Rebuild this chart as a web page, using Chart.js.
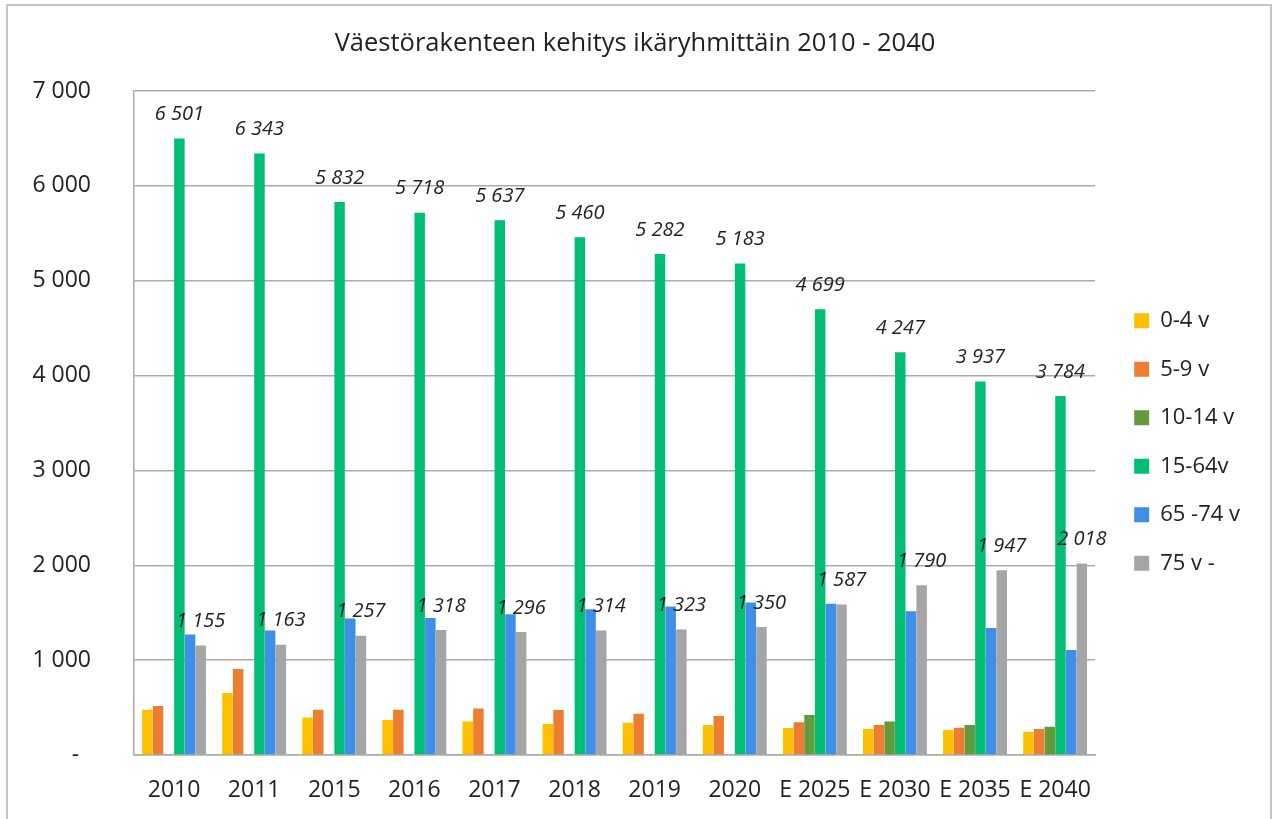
<!DOCTYPE html>
<html>
<head>
<meta charset="utf-8">
<script src="https://cdn.jsdelivr.net/npm/chart.js@4.4.1/dist/chart.umd.min.js"></script>
<style>
  html, body { margin: 0; padding: 0; background: #fff; }
  #frame { position: absolute; left: 6px; top: 4px; width: 1262px; height: 830px;
           border: 2px solid #c6c6c6; border-bottom: none; }
  #wrap { position: absolute; left: 0; top: 0; width: 1276px; height: 819px; }
</style>
</head>
<body>
<div id="frame"></div>
<div id="wrap"><canvas id="chart"></canvas></div>
<script>
// Data
const categories = ['2010', '2011', '2015', '2016', '2017', '2018', '2019', '2020', 'E 2025', 'E 2030', 'E 2035', 'E 2040'];
const age0to4 = [477, 653, 396, 368, 354, 326, 340, 316, 284, 274, 263, 245];
const age5to9 = [516, 908, 477, 477, 491, 474, 435, 411, 344, 316, 288, 274];
const age10to14 = [null, null, null, null, null, null, null, null, 421, 354, 316, 298];
const age15to64 = [6501, 6343, 5832, 5718, 5637, 5460, 5282, 5183, 4699, 4247, 3937, 3784];
const age65to74 = [1270, 1312, 1438, 1445, 1484, 1537, 1565, 1607, 1596, 1516, 1340, 1108];
const age75plus = [1155, 1163, 1257, 1318, 1296, 1314, 1323, 1350, 1587, 1790, 1947, 2018];
const yTicks = [0, 1000, 2000, 3000, 4000, 5000, 6000, 7000];

const FONT = "'Open Sans', 'DejaVu Sans', sans-serif";
const TEXT = '#222';
const GRID = '#ababab';

function fmt(v) {
  return String(v).replace(/\B(?=(\d{3})+(?!\d))/g, ' ');
}

// value labels above the 15-64 and 75+ bars
const valueLabels = {
  id: 'valueLabels',
  afterDatasetsDraw(chart) {
    const ctx = chart.ctx;
    ctx.save();
    ctx.font = 'italic 20px ' + FONT;
    ctx.fillStyle = TEXT;
    ctx.textAlign = 'center';
    ctx.textBaseline = 'middle';
    [3, 5].forEach(di => {
      const meta = chart.getDatasetMeta(di);
      meta.data.forEach((bar, i) => {
        const v = chart.data.datasets[di].data[i];
        if (v == null) return;
        ctx.fillText(fmt(v), bar.x, bar.y - 24);
      });
    });
    ctx.restore();
  }
};

const ctx = document.getElementById('chart').getContext('2d');
new Chart(ctx, {
  type: 'bar',
  data: {
    labels: categories,
    datasets: [
      { label: '0-4 v', data: age0to4, backgroundColor: '#FFC000' },
      { label: '5-9 v', data: age5to9, backgroundColor: '#ED7D31' },
      { label: '10-14 v', data: age10to14, backgroundColor: '#639B3C' },
      { label: '15-64v', data: age15to64, backgroundColor: '#00BE74' },
      { label: '65 -74 v', data: age65to74, backgroundColor: '#3F8EEA' },
      { label: '75 v -', data: age75plus, backgroundColor: '#A5A5A5' }
    ]
  },
  options: {
    responsive: true,
    maintainAspectRatio: false,
    animation: false,
    layout: { padding: { left: 20, right: 26, top: 0, bottom: 0 } },
    datasets: { bar: { categoryPercentage: 0.8, barPercentage: 0.98 } },
    plugins: {
      title: {
        display: true,
        text: 'Väestörakenteen kehitys ikäryhmittäin 2010 - 2040',
        color: TEXT,
        font: { family: FONT, size: 25.5, weight: 'normal' },
        padding: { top: 28, bottom: 32.5 }
      },
      legend: {
        position: 'right',
        title: { display: true, text: ' ', font: { size: 10 }, padding: { top: 53, bottom: 0 } },
        labels: {
          color: TEXT,
          font: { family: FONT, size: 22 },
          boxWidth: 15,
          boxHeight: 15,
          padding: 26.5
        }
      },
      tooltip: { enabled: false }
    },
    scales: {
      x: {
        grid: { display: false },
        border: { display: true, color: GRID, width: 1.5 },
        ticks: { color: TEXT, font: { family: FONT, size: 23 }, padding: 14, maxRotation: 0 },
        afterFit: s => { s.height = 64; }
      },
      y: {
        min: 0,
        max: 7000,
        afterBuildTicks: s => { s.ticks = yTicks.map(v => ({ value: v })); },
        grid: { color: GRID, lineWidth: 1.5, drawTicks: false },
        border: { display: true, color: GRID, width: 1.5 },
        ticks: {
          color: TEXT,
          font: { family: FONT, size: 23 },
          padding: 43,
          callback: v => v === 0 ? '-  ' : fmt(v)
        },
        afterFit: s => { s.width = 114; }
      },
      yR: {
        position: 'right',
        display: true,
        grid: { display: false },
        border: { display: false },
        ticks: { display: false },
        afterFit: s => { s.width = 12.5; }
      }
    }
  },
  plugins: [valueLabels]
});
</script>
</body>
</html>
